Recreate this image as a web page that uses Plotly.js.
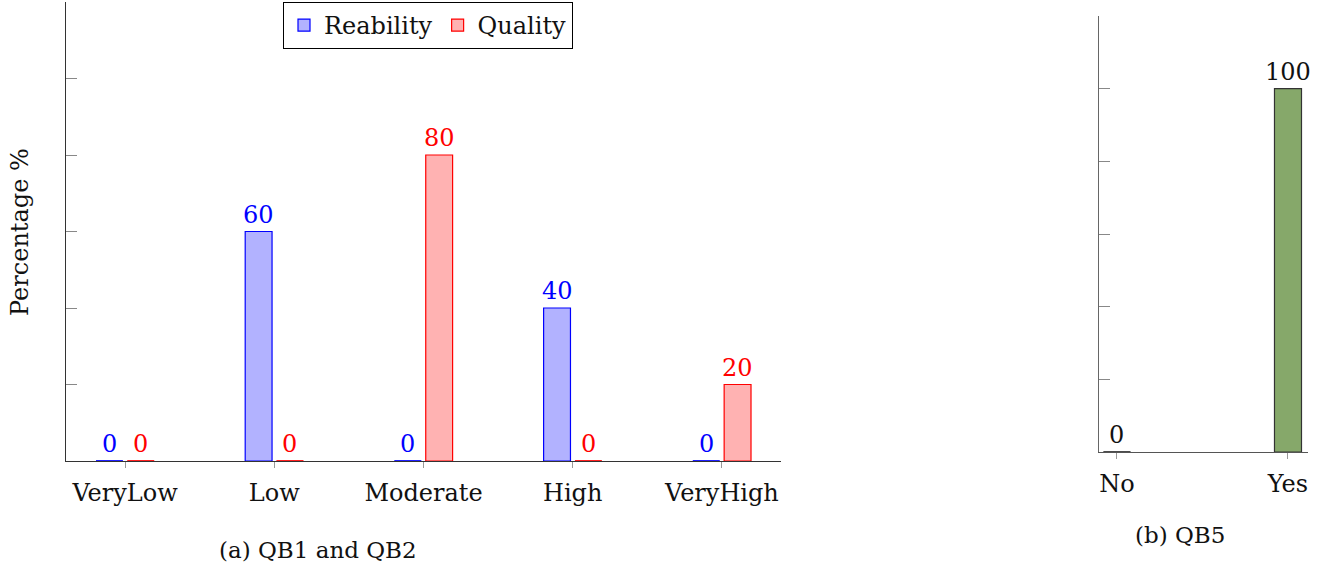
<!DOCTYPE html>
<html>
<head>
<meta charset="utf-8">
<script src="https://cdn.plot.ly/plotly-3.0.1.min.js"></script>
<style>html,body{margin:0;padding:0;background:#fff}#chart{width:1338px;height:568px}</style>
</head>
<body>
<div id="chart"></div>
<script>
// ---- data ----
const levels = ['VeryLow', 'Low', 'Moderate', 'High', 'VeryHigh'];
const reability = [0, 60, 0, 40, 0];
const quality = [0, 0, 80, 0, 20];
const qb5Categories = ['No', 'Yes'];
const qb5Values = [0, 100];
const yTicks = [0, 20, 40, 60, 80, 100, 120];

// ---- styling ----
const FONT = 'DejaVu Serif';
const FS = 24;
const W = 1338, H = 568;
const px = v => v / W;
const py = v => 1 - v / H;

const barW = 0.18;
const offB = -0.195, offR = 0.015;
const idx = levels.map((_, i) => i);
const idx5 = qb5Categories.map((_, i) => i);

const traces = [
  {
    type: 'bar', name: 'Reability', x: idx, y: reability,
    width: barW, offset: offB,
    marker: {color: 'rgba(0,0,255,0.3)', line: {color: 'blue', width: 1.2}},
    xaxis: 'x', yaxis: 'y', hoverinfo: 'skip'
  },
  {
    type: 'bar', name: 'Quality', x: idx, y: quality,
    width: barW, offset: offR,
    marker: {color: 'rgba(255,0,0,0.3)', line: {color: 'red', width: 1.2}},
    xaxis: 'x', yaxis: 'y', hoverinfo: 'skip'
  },
  {
    type: 'bar', name: 'QB5', x: idx5, y: qb5Values,
    width: 0.158, offset: -0.079,
    marker: {color: '#86a86a', line: {color: '#333', width: 1.2}},
    xaxis: 'x2', yaxis: 'y2', showlegend: false, hoverinfo: 'skip'
  }
];

const annotations = [];
const addLabels = (vals, xs, xref, yref, color) => {
  vals.forEach((v, i) => {
    annotations.push({
      x: xs[i], y: v, xref: xref, yref: yref, text: String(v),
      showarrow: false, yanchor: 'bottom', xanchor: 'center', yshift: 1,
      font: {family: FONT, size: FS, color: color}
    });
  });
};
addLabels(reability, idx.map(i => i + offB + barW / 2), 'x', 'y', 'blue');
addLabels(quality, idx.map(i => i + offR + barW / 2), 'x', 'y', 'red');
addLabels(qb5Values, idx5, 'x2', 'y2', '#111');

annotations.push(
  {text: 'Percentage %', textangle: -90, xref: 'paper', yref: 'paper',
   x: px(20), y: py(232), xanchor: 'center', yanchor: 'middle', showarrow: false,
   font: {family: FONT, size: FS, color: '#111'}},
  {text: '(a) QB1 and QB2', xref: 'paper', yref: 'paper',
   x: px(318), y: py(550), xanchor: 'center', yanchor: 'middle', showarrow: false,
   font: {family: FONT, size: 23, color: '#111'}},
  {text: '(b) QB5', xref: 'paper', yref: 'paper',
   x: px(1180), y: py(535), xanchor: 'center', yanchor: 'middle', showarrow: false,
   font: {family: FONT, size: 23, color: '#111'}}
);

// zero-height bars drawn as thin baseline segments, derived from the data
const shapes = [];
const zeroSeg = (vals, xs, w, xref, yref, color) => {
  vals.forEach((v, i) => {
    if (v === 0) shapes.push({type: 'line', xref: xref, yref: yref,
      x0: xs[i], x1: xs[i] + w, y0: 0, y1: 0, line: {color: color, width: 1.5}});
  });
};
zeroSeg(reability, idx.map(i => i + offB), barW, 'x', 'y', 'blue');
zeroSeg(quality, idx.map(i => i + offR), barW, 'x', 'y', 'red');
zeroSeg(qb5Values, idx5.map(i => i - 0.079), 0.158, 'x2', 'y2', '#333');

const layout = {
  width: W, height: H,
  margin: {l: 0, r: 0, t: 0, b: 0},
  paper_bgcolor: '#fff', plot_bgcolor: '#fff',
  font: {family: FONT, size: FS, color: '#111'},
  showlegend: true,
  legend: {
    orientation: 'h', x: px(283), y: py(2), xanchor: 'left', yanchor: 'top',
    bordercolor: '#000', borderwidth: 1, bgcolor: '#fff',
    font: {family: FONT, size: FS, color: '#111'},
    itemwidth: 30, tracegroupgap: 0
  },
  xaxis: {
    domain: [px(66), px(781)], range: [-0.396, 4.396],
    tickmode: 'array', tickvals: idx, ticktext: levels,
    ticks: 'outside', ticklen: 6, tickcolor: '#999', tickwidth: 1, ticklabelstandoff: 4,
    showline: true, linecolor: '#333', linewidth: 1.3, showgrid: false, zeroline: false,
    tickfont: {family: FONT, size: FS, color: '#111'}, fixedrange: true
  },
  yaxis: {
    domain: [py(461), py(2)], range: [0, 120],
    tickmode: 'array', tickvals: yTicks, showticklabels: false,
    ticks: 'inside', ticklen: 11, tickcolor: '#888', tickwidth: 1,
    showline: true, linecolor: '#333', linewidth: 1.3, showgrid: false, zeroline: false,
    fixedrange: true
  },
  xaxis2: {
    domain: [px(1099), px(1308)], range: [-0.105, 1.117], anchor: 'y2',
    tickmode: 'array', tickvals: idx5, ticktext: qb5Categories,
    ticks: 'outside', ticklen: 6, tickcolor: '#999', tickwidth: 1, ticklabelstandoff: 4,
    showline: true, linecolor: '#555', linewidth: 1.3, showgrid: false, zeroline: false,
    tickfont: {family: FONT, size: FS, color: '#111'}, fixedrange: true
  },
  yaxis2: {
    domain: [py(452), py(16)], range: [0, 120], anchor: 'x2',
    tickmode: 'array', tickvals: yTicks, showticklabels: false,
    ticks: 'inside', ticklen: 11, tickcolor: '#888', tickwidth: 1,
    showline: true, linecolor: '#666', linewidth: 1.3, showgrid: false, zeroline: false,
    fixedrange: true
  },
  annotations: annotations,
  shapes: shapes
};

Plotly.newPlot('chart', traces, layout, {displayModeBar: false, staticPlot: true});
</script>
</body>
</html>
